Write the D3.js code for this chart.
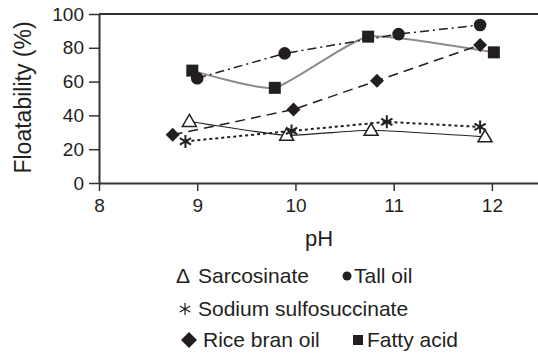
<!DOCTYPE html>
<html>
<head>
<meta charset="utf-8">
<script src="https://cdn.jsdelivr.net/npm/d3@7"></script>
<style>
  body { margin: 0; background: #fff; }
  text { font-family: "Liberation Sans", Arial, sans-serif; fill: #231f20; }
</style>
</head>
<body>
<div id="chart"></div>
<script>
// data
let xTicks = [8, 9, 10, 11, 12];
let yTicks = [0, 20, 40, 60, 80, 100];

let sarcosinatePH = [8.92, 9.91, 10.77, 11.93];
let sarcosinateVal = [36.4, 28.3, 31.2, 27.3];

let tallOilPH = [9.0, 9.89, 11.05, 11.88];
let tallOilVal = [62, 76.7, 88.1, 93.5];

let sulfoPH = [8.88, 9.96, 10.93, 11.88];
let sulfoVal = [24.6, 30.8, 36.2, 33.2];

let ricePH = [8.75, 9.98, 10.83, 11.88];
let riceVal = [28.5, 43.5, 60.5, 81.7];

let fattyPH = [8.95, 9.79, 10.74, 12.02];
let fattyVal = [66.5, 56.3, 86.6, 77.3];

let svgWidth = 538;
let svgHeight = 357;
let margin = { top: 14, left: 99 };
let width = 442;   // 8 .. 12.5 runs past the right edge
let height = 169;

let svg = d3.select("#chart")
    .append("svg")
    .attr("width", svgWidth)
    .attr("height", svgHeight);

let chartGroup = svg.append("g")
    .attr("transform", `translate(${margin.left}, ${margin.top})`);

let xScale = d3.scaleLinear().domain([8, 12.5]).range([0, width]);
let yScale = d3.scaleLinear().domain([0, 100]).range([height, 0]);

// top frame line
chartGroup.append("line")
    .attr("x1", 0).attr("x2", width)
    .attr("y1", 0).attr("y2", 0)
    .attr("stroke", "#333").attr("stroke-width", 2);

let xAxis = chartGroup.append("g")
    .attr("transform", `translate(0, ${height})`)
    .call(d3.axisBottom(xScale).tickValues(xTicks).tickFormat(d3.format("d"))
        .tickSize(8).tickPadding(8).tickSizeOuter(0));

let yAxis = chartGroup.append("g")
    .call(d3.axisLeft(yScale).tickValues(yTicks).tickSize(10).tickPadding(5).tickSizeOuter(0));

[xAxis, yAxis].forEach(ax => {
    ax.select(".domain").attr("stroke", "#333").attr("stroke-width", 2);
    ax.selectAll(".tick line").attr("stroke", "#333").attr("stroke-width", 1.5);
    ax.selectAll("text")
        .attr("font-size", 19)
        .attr("font-family", "Liberation Sans, Arial, sans-serif")
        .attr("fill", "#231f20");
});

// axis titles
chartGroup.append("text")
    .attr("x", width / 2 - 1)
    .attr("y", height + 63)
    .attr("text-anchor", "middle")
    .attr("font-size", 22)
    .text("pH");

chartGroup.append("text")
    .attr("transform", "rotate(-90)")
    .attr("x", -height / 2 + 1)
    .attr("y", -margin.left + 31)
    .attr("text-anchor", "middle")
    .attr("font-size", 23)
    .text("Floatability (%)");

function zip(xs, ys) {
    return xs.map((x, i) => ({ ph: x, val: ys[i] }));
}

function makeLine(curve) {
    return d3.line()
        .x(d => xScale(d.ph))
        .y(d => yScale(d.val))
        .curve(curve);
}

let sarcosinate = zip(sarcosinatePH, sarcosinateVal);
let tallOil = zip(tallOilPH, tallOilVal);
let sulfo = zip(sulfoPH, sulfoVal);
let rice = zip(ricePH, riceVal);
let fatty = zip(fattyPH, fattyVal);

// smoothed lines like the spreadsheet's
let smooth = d3.curveCardinal.tension(0.5);

// lines first, markers on top
chartGroup.append("path").datum(fatty)
    .attr("d", makeLine(smooth))
    .attr("fill", "none").attr("stroke", "#8c8c8c").attr("stroke-width", 2);

chartGroup.append("path").datum(sarcosinate)
    .attr("d", makeLine(smooth))
    .attr("fill", "none").attr("stroke", "#231f20").attr("stroke-width", 1.2);

chartGroup.append("path").datum(tallOil)
    .attr("d", makeLine(d3.curveLinear))
    .attr("fill", "none").attr("stroke", "#231f20").attr("stroke-width", 1.5)
    .attr("stroke-dasharray", "9,4,2,4");

chartGroup.append("path").datum(sulfo)
    .attr("d", makeLine(d3.curveLinear))
    .attr("fill", "none").attr("stroke", "#231f20").attr("stroke-width", 2)
    .attr("stroke-dasharray", "3,3");

chartGroup.append("path").datum(rice)
    .attr("d", makeLine(d3.curveLinear))
    .attr("fill", "none").attr("stroke", "#231f20").attr("stroke-width", 1.5)
    .attr("stroke-dasharray", "10,6");

// marker shapes
let trianglePath = "M0,-7L7,5L-7,5Z";
let asteriskPath = "M0,-6.5L0,6.5M-5.6,-3.25L5.6,3.25M-5.6,3.25L5.6,-3.25";

chartGroup.selectAll(".tri").data(sarcosinate).join("path")
    .attr("transform", d => `translate(${xScale(d.ph)}, ${yScale(d.val)})`)
    .attr("d", trianglePath)
    .attr("fill", "#fff").attr("stroke", "#231f20").attr("stroke-width", 1.5);

chartGroup.selectAll(".dot").data(tallOil).join("circle")
    .attr("cx", d => xScale(d.ph))
    .attr("cy", d => yScale(d.val))
    .attr("r", 6.3)
    .attr("fill", "#231f20");

chartGroup.selectAll(".star").data(sulfo).join("path")
    .attr("transform", d => `translate(${xScale(d.ph)}, ${yScale(d.val)})`)
    .attr("d", asteriskPath)
    .attr("fill", "none").attr("stroke", "#231f20").attr("stroke-width", 2);

chartGroup.selectAll(".diamond").data(rice).join("path")
    .attr("transform", d => `translate(${xScale(d.ph)}, ${yScale(d.val)})`)
    .attr("d", "M0,-7L7,0L0,7L-7,0Z")
    .attr("fill", "#231f20");

chartGroup.selectAll(".square").data(fatty).join("rect")
    .attr("x", d => xScale(d.ph) - 6)
    .attr("y", d => yScale(d.val) - 6)
    .attr("width", 12).attr("height", 12)
    .attr("fill", "#231f20");

// legend
let legend = svg.append("g").attr("font-size", 21);

legend.append("text").attr("x", 176).attr("y", 283).text("Δ");
legend.append("text").attr("x", 198).attr("y", 283).text("Sarcosinate");
legend.append("circle").attr("cx", 347).attr("cy", 276).attr("r", 4.5).attr("fill", "#231f20");
legend.append("text").attr("x", 354).attr("y", 283).text("Tall oil");

legend.append("path")
    .attr("transform", "translate(185, 309)")
    .attr("d", "M0,-6L0,6M-5.2,-3L5.2,3M-5.2,3L5.2,-3")
    .attr("fill", "none").attr("stroke", "#231f20").attr("stroke-width", 1.2);
legend.append("text").attr("x", 198).attr("y", 316).text("Sodium sulfosuccinate");

legend.append("path")
    .attr("transform", "translate(189, 340)")
    .attr("d", "M0,-8L8,0L0,8L-8,0Z")
    .attr("fill", "#231f20");
legend.append("text").attr("x", 203).attr("y", 347).text("Rice bran oil");
legend.append("rect").attr("x", 353).attr("y", 335).attr("width", 10).attr("height", 10).attr("fill", "#231f20");
legend.append("text").attr("x", 367).attr("y", 347).text("Fatty acid");
</script>
</body>
</html>
